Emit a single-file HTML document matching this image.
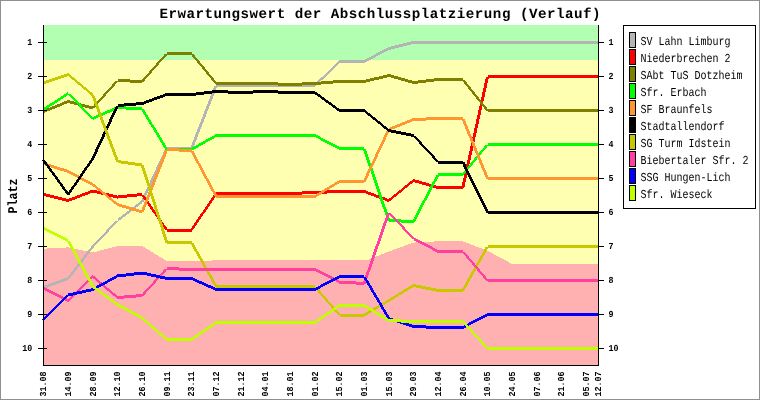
<!DOCTYPE html>
<html lang="de"><head><meta charset="utf-8"><title>Erwartungswert der Abschlussplatzierung (Verlauf)</title>
<style>html,body{margin:0;padding:0;background:#fff}body{width:760px;height:400px;overflow:hidden}svg{display:block}text{font-family:"Liberation Mono",monospace;fill:#000;text-rendering:geometricPrecision}.t{font-weight:bold;font-size:14.2px}.l{font-size:12.2px}.y{font-weight:bold;font-size:13.4px}.k{font-size:9.2px;font-weight:bold}</style></head><body>
<svg width="760" height="400" viewBox="0 0 760 400">
<rect x="0" y="0" width="760" height="400" fill="#fff"/>
<rect x="0.5" y="0.5" width="759" height="399" fill="none" stroke="#909090" stroke-width="1"/>
<g shape-rendering="crispEdges">
<rect x="44" y="25" width="555" height="340" fill="#ffffb2"/>
<rect x="44" y="25" width="555" height="35" fill="#b2ffb2"/>
<path d="M44,365 L43.5,248.7 L68.2,247.4 L92.8,252.5 L117.5,246.0 L142.2,246.0 L166.8,261.0 L191.5,261.0 L216.2,260.4 L240.8,260.0 L265.5,260.0 L290.2,260.0 L314.8,260.0 L339.5,260.0 L364.2,260.0 L367.5,260.0 L388.8,251.5 L413.5,242.6 L438.2,241.3 L462.8,241.3 L487.5,250.8 L512.2,264.0 L536.8,264.0 L561.5,264.0 L586.2,264.0 L598.5,264.0 L599,264.0 L599,365 Z" fill="#ffb0b0"/>
</g>
<g shape-rendering="crispEdges" stroke="none">
<path fill="#b4b4b4" d="M43.5,286.0 L68.2,277.0 L68.2,280.0 L43.5,289.0 Z M66.7,278.5 L91.3,246.5 L94.3,246.5 L69.7,278.5 Z M91.3,246.5 L116.0,220.5 L119.0,220.5 L94.3,246.5 Z M117.5,219.0 L142.2,200.0 L142.2,203.0 L117.5,222.0 Z M140.7,201.5 L165.3,148.5 L168.3,148.5 L143.7,201.5 Z M166.8,147.0 L191.5,147.0 L191.5,150.0 L166.8,150.0 Z M190.0,148.5 L214.7,85.5 L217.7,85.5 L193.0,148.5 Z M216.2,84.0 L240.8,84.0 L240.8,87.0 L216.2,87.0 Z M240.8,84.0 L265.5,84.0 L265.5,87.0 L240.8,87.0 Z M265.5,84.0 L290.2,84.0 L290.2,87.0 L265.5,87.0 Z M290.2,84.0 L314.8,84.0 L314.8,87.0 L290.2,87.0 Z M314.8,84.0 L339.5,60.0 L339.5,63.0 L314.8,87.0 Z M339.5,60.0 L364.2,60.0 L364.2,63.0 L339.5,63.0 Z M364.2,60.0 L388.8,47.0 L388.8,50.0 L364.2,63.0 Z M388.8,47.0 L413.5,41.0 L413.5,44.0 L388.8,50.0 Z M413.5,41.0 L438.2,41.0 L438.2,44.0 L413.5,44.0 Z M438.2,41.0 L462.8,41.0 L462.8,44.0 L438.2,44.0 Z M462.8,41.0 L487.5,41.0 L487.5,44.0 L462.8,44.0 Z M487.5,41.0 L512.2,41.0 L512.2,44.0 L487.5,44.0 Z M512.2,41.0 L536.8,41.0 L536.8,44.0 L512.2,44.0 Z M536.8,41.0 L561.5,41.0 L561.5,44.0 L536.8,44.0 Z M561.5,41.0 L586.2,41.0 L586.2,44.0 L561.5,44.0 Z M586.2,41.0 L598.5,41.0 L598.5,44.0 L586.2,44.0 Z"/>
<path fill="#ff0000" d="M43.5,193.0 L68.2,199.0 L68.2,202.0 L43.5,196.0 Z M68.2,199.0 L92.8,189.5 L92.8,192.5 L68.2,202.0 Z M92.8,189.5 L117.5,195.5 L117.5,198.5 L92.8,192.5 Z M117.5,195.5 L142.2,193.0 L142.2,196.0 L117.5,198.5 Z M143.7,194.5 L168.3,230.0 L165.3,230.0 L140.7,194.5 Z M166.8,228.5 L191.5,228.5 L191.5,231.5 L166.8,231.5 Z M190.0,230.0 L214.7,193.5 L217.7,193.5 L193.0,230.0 Z M216.2,192.0 L240.8,192.0 L240.8,195.0 L216.2,195.0 Z M240.8,192.0 L265.5,192.0 L265.5,195.0 L240.8,195.0 Z M265.5,192.0 L290.2,192.0 L290.2,195.0 L265.5,195.0 Z M290.2,192.0 L314.8,191.0 L314.8,194.0 L290.2,195.0 Z M314.8,191.0 L339.5,190.0 L339.5,193.0 L314.8,194.0 Z M339.5,190.0 L364.2,190.0 L364.2,193.0 L339.5,193.0 Z M364.2,190.0 L388.8,199.0 L388.8,202.0 L364.2,193.0 Z M388.8,199.0 L413.5,179.0 L413.5,182.0 L388.8,202.0 Z M413.5,179.0 L438.2,186.0 L438.2,189.0 L413.5,182.0 Z M438.2,186.0 L462.8,186.0 L462.8,189.0 L438.2,189.0 Z M461.3,187.5 L486.0,76.5 L489.0,76.5 L464.3,187.5 Z M487.5,75.0 L512.2,75.0 L512.2,78.0 L487.5,78.0 Z M512.2,75.0 L536.8,75.0 L536.8,78.0 L512.2,78.0 Z M536.8,75.0 L561.5,75.0 L561.5,78.0 L536.8,78.0 Z M561.5,75.0 L586.2,75.0 L586.2,78.0 L561.5,78.0 Z M586.2,75.0 L598.5,75.0 L598.5,78.0 L586.2,78.0 Z"/>
<path fill="#808000" d="M43.5,110.0 L68.2,100.0 L68.2,103.0 L43.5,113.0 Z M68.2,100.0 L92.8,106.5 L92.8,109.5 L68.2,103.0 Z M91.3,108.0 L116.0,80.5 L119.0,80.5 L94.3,108.0 Z M117.5,79.0 L142.2,80.0 L142.2,83.0 L117.5,82.0 Z M140.7,81.5 L165.3,53.5 L168.3,53.5 L143.7,81.5 Z M166.8,52.0 L191.5,52.0 L191.5,55.0 L166.8,55.0 Z M193.0,53.5 L217.7,83.5 L214.7,83.5 L190.0,53.5 Z M216.2,82.0 L240.8,82.0 L240.8,85.0 L216.2,85.0 Z M240.8,82.0 L265.5,82.0 L265.5,85.0 L240.8,85.0 Z M265.5,82.0 L290.2,83.0 L290.2,86.0 L265.5,85.0 Z M290.2,83.0 L314.8,82.0 L314.8,85.0 L290.2,86.0 Z M314.8,82.0 L339.5,80.0 L339.5,83.0 L314.8,85.0 Z M339.5,80.0 L364.2,80.0 L364.2,83.0 L339.5,83.0 Z M364.2,80.0 L388.8,74.0 L388.8,77.0 L364.2,83.0 Z M388.8,74.0 L413.5,81.0 L413.5,84.0 L388.8,77.0 Z M413.5,81.0 L438.2,78.0 L438.2,81.0 L413.5,84.0 Z M438.2,78.0 L462.8,78.0 L462.8,81.0 L438.2,81.0 Z M464.3,79.5 L489.0,110.5 L486.0,110.5 L461.3,79.5 Z M487.5,109.0 L512.2,109.0 L512.2,112.0 L487.5,112.0 Z M512.2,109.0 L536.8,109.0 L536.8,112.0 L512.2,112.0 Z M536.8,109.0 L561.5,109.0 L561.5,112.0 L536.8,112.0 Z M561.5,109.0 L586.2,109.0 L586.2,112.0 L561.5,112.0 Z M586.2,109.0 L598.5,109.0 L598.5,112.0 L586.2,112.0 Z"/>
<path fill="#00ff00" d="M43.5,108.0 L68.2,92.0 L68.2,95.0 L43.5,111.0 Z M69.7,93.5 L94.3,118.5 L91.3,118.5 L66.7,93.5 Z M92.8,117.0 L117.5,106.0 L117.5,109.0 L92.8,120.0 Z M117.5,106.0 L142.2,107.5 L142.2,110.5 L117.5,109.0 Z M143.7,109.0 L168.3,149.5 L165.3,149.5 L140.7,109.0 Z M166.8,148.0 L191.5,148.0 L191.5,151.0 L166.8,151.0 Z M191.5,148.0 L216.2,134.0 L216.2,137.0 L191.5,151.0 Z M216.2,134.0 L240.8,134.0 L240.8,137.0 L216.2,137.0 Z M240.8,134.0 L265.5,134.0 L265.5,137.0 L240.8,137.0 Z M265.5,134.0 L290.2,134.0 L290.2,137.0 L265.5,137.0 Z M290.2,134.0 L314.8,134.0 L314.8,137.0 L290.2,137.0 Z M314.8,134.0 L339.5,147.0 L339.5,150.0 L314.8,137.0 Z M339.5,147.0 L364.2,147.0 L364.2,150.0 L339.5,150.0 Z M365.7,148.5 L390.3,220.5 L387.3,220.5 L362.7,148.5 Z M388.8,219.0 L413.5,220.0 L413.5,223.0 L388.8,222.0 Z M412.0,221.5 L436.7,174.5 L439.7,174.5 L415.0,221.5 Z M438.2,173.0 L462.8,173.0 L462.8,176.0 L438.2,176.0 Z M461.3,174.5 L486.0,144.5 L489.0,144.5 L464.3,174.5 Z M487.5,143.0 L512.2,143.0 L512.2,146.0 L487.5,146.0 Z M512.2,143.0 L536.8,143.0 L536.8,146.0 L512.2,146.0 Z M536.8,143.0 L561.5,143.0 L561.5,146.0 L536.8,146.0 Z M561.5,143.0 L586.2,143.0 L586.2,146.0 L561.5,146.0 Z M586.2,143.0 L598.5,143.0 L598.5,146.0 L586.2,146.0 Z"/>
<path fill="#ff9632" d="M43.5,162.0 L68.2,170.0 L68.2,173.0 L43.5,165.0 Z M68.2,170.0 L92.8,183.0 L92.8,186.0 L68.2,173.0 Z M92.8,183.0 L117.5,203.0 L117.5,206.0 L92.8,186.0 Z M117.5,203.0 L142.2,210.5 L142.2,213.5 L117.5,206.0 Z M140.7,212.0 L165.3,149.5 L168.3,149.5 L143.7,212.0 Z M166.8,148.0 L191.5,149.0 L191.5,152.0 L166.8,151.0 Z M193.0,150.5 L217.7,196.5 L214.7,196.5 L190.0,150.5 Z M216.2,195.0 L240.8,195.0 L240.8,198.0 L216.2,198.0 Z M240.8,195.0 L265.5,195.0 L265.5,198.0 L240.8,198.0 Z M265.5,195.0 L290.2,195.0 L290.2,198.0 L265.5,198.0 Z M290.2,195.0 L314.8,195.0 L314.8,198.0 L290.2,198.0 Z M314.8,195.0 L339.5,180.0 L339.5,183.0 L314.8,198.0 Z M339.5,180.0 L364.2,180.0 L364.2,183.0 L339.5,183.0 Z M362.7,181.5 L387.3,129.5 L390.3,129.5 L365.7,181.5 Z M388.8,128.0 L413.5,118.0 L413.5,121.0 L388.8,131.0 Z M413.5,118.0 L438.2,117.0 L438.2,120.0 L413.5,121.0 Z M438.2,117.0 L462.8,117.0 L462.8,120.0 L438.2,120.0 Z M464.3,118.5 L489.0,178.5 L486.0,178.5 L461.3,118.5 Z M487.5,177.0 L512.2,177.0 L512.2,180.0 L487.5,180.0 Z M512.2,177.0 L536.8,177.0 L536.8,180.0 L512.2,180.0 Z M536.8,177.0 L561.5,177.0 L561.5,180.0 L536.8,180.0 Z M561.5,177.0 L586.2,177.0 L586.2,180.0 L561.5,180.0 Z M586.2,177.0 L598.5,177.0 L598.5,180.0 L586.2,180.0 Z"/>
<path fill="#000000" d="M45.0,160.0 L69.7,194.5 L66.7,194.5 L42.0,160.0 Z M66.7,194.5 L91.3,158.5 L94.3,158.5 L69.7,194.5 Z M91.3,158.5 L116.0,105.5 L119.0,105.5 L94.3,158.5 Z M117.5,104.0 L142.2,102.0 L142.2,105.0 L117.5,107.0 Z M142.2,102.0 L166.8,93.0 L166.8,96.0 L142.2,105.0 Z M166.8,93.0 L191.5,93.0 L191.5,96.0 L166.8,96.0 Z M191.5,93.0 L216.2,90.0 L216.2,93.0 L191.5,96.0 Z M216.2,90.0 L240.8,91.0 L240.8,94.0 L216.2,93.0 Z M240.8,91.0 L265.5,90.0 L265.5,93.0 L240.8,94.0 Z M265.5,90.0 L290.2,91.0 L290.2,94.0 L265.5,93.0 Z M290.2,91.0 L314.8,91.0 L314.8,94.0 L290.2,94.0 Z M314.8,91.0 L339.5,109.0 L339.5,112.0 L314.8,94.0 Z M339.5,109.0 L364.2,109.0 L364.2,112.0 L339.5,112.0 Z M364.2,109.0 L388.8,129.0 L388.8,132.0 L364.2,112.0 Z M388.8,129.0 L413.5,134.0 L413.5,137.0 L388.8,132.0 Z M415.0,135.5 L439.7,162.0 L436.7,162.0 L412.0,135.5 Z M438.2,160.5 L462.8,160.5 L462.8,163.5 L438.2,163.5 Z M464.3,162.0 L489.0,212.5 L486.0,212.5 L461.3,162.0 Z M487.5,211.0 L512.2,211.0 L512.2,214.0 L487.5,214.0 Z M512.2,211.0 L536.8,211.0 L536.8,214.0 L512.2,214.0 Z M536.8,211.0 L561.5,211.0 L561.5,214.0 L536.8,214.0 Z M561.5,211.0 L586.2,211.0 L586.2,214.0 L561.5,214.0 Z M586.2,211.0 L598.5,211.0 L598.5,214.0 L586.2,214.0 Z"/>
<path fill="#c8c800" d="M43.5,81.5 L68.2,73.0 L68.2,76.0 L43.5,84.5 Z M68.2,73.0 L92.8,93.5 L92.8,96.5 L68.2,76.0 Z M94.3,95.0 L119.0,161.5 L116.0,161.5 L91.3,95.0 Z M117.5,160.0 L142.2,163.5 L142.2,166.5 L117.5,163.0 Z M143.7,165.0 L168.3,242.5 L165.3,242.5 L140.7,165.0 Z M166.8,241.0 L191.5,241.0 L191.5,244.0 L166.8,244.0 Z M193.0,242.5 L217.7,286.5 L214.7,286.5 L190.0,242.5 Z M216.2,285.0 L240.8,285.0 L240.8,288.0 L216.2,288.0 Z M240.8,285.0 L265.5,285.0 L265.5,288.0 L240.8,288.0 Z M265.5,285.0 L290.2,285.0 L290.2,288.0 L265.5,288.0 Z M290.2,285.0 L314.8,285.0 L314.8,288.0 L290.2,288.0 Z M316.3,286.5 L341.0,315.0 L338.0,315.0 L313.3,286.5 Z M339.5,313.5 L364.2,313.5 L364.2,316.5 L339.5,316.5 Z M364.2,313.5 L388.8,299.0 L388.8,302.0 L364.2,316.5 Z M388.8,299.0 L413.5,284.0 L413.5,287.0 L388.8,302.0 Z M413.5,284.0 L438.2,289.0 L438.2,292.0 L413.5,287.0 Z M438.2,289.0 L462.8,289.0 L462.8,292.0 L438.2,292.0 Z M461.3,290.5 L486.0,246.5 L489.0,246.5 L464.3,290.5 Z M487.5,245.0 L512.2,245.0 L512.2,248.0 L487.5,248.0 Z M512.2,245.0 L536.8,245.0 L536.8,248.0 L512.2,248.0 Z M536.8,245.0 L561.5,245.0 L561.5,248.0 L536.8,248.0 Z M561.5,245.0 L586.2,245.0 L586.2,248.0 L561.5,248.0 Z M586.2,245.0 L598.5,245.0 L598.5,248.0 L586.2,248.0 Z"/>
<path fill="#ff40a0" d="M43.5,287.0 L68.2,299.0 L68.2,302.0 L43.5,290.0 Z M68.2,299.0 L92.8,275.0 L92.8,278.0 L68.2,302.0 Z M92.8,275.0 L117.5,296.0 L117.5,299.0 L92.8,278.0 Z M117.5,296.0 L142.2,294.0 L142.2,297.0 L117.5,299.0 Z M140.7,295.5 L165.3,268.5 L168.3,268.5 L143.7,295.5 Z M166.8,267.0 L191.5,268.0 L191.5,271.0 L166.8,270.0 Z M191.5,268.0 L216.2,268.0 L216.2,271.0 L191.5,271.0 Z M216.2,268.0 L240.8,268.0 L240.8,271.0 L216.2,271.0 Z M240.8,268.0 L265.5,268.0 L265.5,271.0 L240.8,271.0 Z M265.5,268.0 L290.2,268.0 L290.2,271.0 L265.5,271.0 Z M290.2,268.0 L314.8,268.0 L314.8,271.0 L290.2,271.0 Z M314.8,268.0 L339.5,280.5 L339.5,283.5 L314.8,271.0 Z M339.5,280.5 L364.2,282.0 L364.2,285.0 L339.5,283.5 Z M362.7,283.5 L387.3,212.5 L390.3,212.5 L365.7,283.5 Z M390.3,212.5 L415.0,238.5 L412.0,238.5 L387.3,212.5 Z M413.5,237.0 L438.2,250.0 L438.2,253.0 L413.5,240.0 Z M438.2,250.0 L462.8,250.0 L462.8,253.0 L438.2,253.0 Z M464.3,251.5 L489.0,280.5 L486.0,280.5 L461.3,251.5 Z M487.5,279.0 L512.2,279.0 L512.2,282.0 L487.5,282.0 Z M512.2,279.0 L536.8,279.0 L536.8,282.0 L512.2,282.0 Z M536.8,279.0 L561.5,279.0 L561.5,282.0 L536.8,282.0 Z M561.5,279.0 L586.2,279.0 L586.2,282.0 L561.5,282.0 Z M586.2,279.0 L598.5,279.0 L598.5,282.0 L586.2,282.0 Z"/>
<path fill="#0000ff" d="M42.0,320.0 L66.7,295.0 L69.7,295.0 L45.0,320.0 Z M68.2,293.5 L92.8,288.0 L92.8,291.0 L68.2,296.5 Z M92.8,288.0 L117.5,274.5 L117.5,277.5 L92.8,291.0 Z M117.5,274.5 L142.2,271.5 L142.2,274.5 L117.5,277.5 Z M142.2,271.5 L166.8,277.0 L166.8,280.0 L142.2,274.5 Z M166.8,277.0 L191.5,277.0 L191.5,280.0 L166.8,280.0 Z M191.5,277.0 L216.2,288.0 L216.2,291.0 L191.5,280.0 Z M216.2,288.0 L240.8,288.0 L240.8,291.0 L216.2,291.0 Z M240.8,288.0 L265.5,288.0 L265.5,291.0 L240.8,291.0 Z M265.5,288.0 L290.2,288.0 L290.2,291.0 L265.5,291.0 Z M290.2,288.0 L314.8,288.0 L314.8,291.0 L290.2,291.0 Z M314.8,288.0 L339.5,275.0 L339.5,278.0 L314.8,291.0 Z M339.5,275.0 L364.2,275.0 L364.2,278.0 L339.5,278.0 Z M365.7,276.5 L390.3,318.5 L387.3,318.5 L362.7,276.5 Z M388.8,317.0 L413.5,325.0 L413.5,328.0 L388.8,320.0 Z M413.5,325.0 L438.2,326.0 L438.2,329.0 L413.5,328.0 Z M438.2,326.0 L462.8,326.0 L462.8,329.0 L438.2,329.0 Z M462.8,326.0 L487.5,313.0 L487.5,316.0 L462.8,329.0 Z M487.5,313.0 L512.2,313.0 L512.2,316.0 L487.5,316.0 Z M512.2,313.0 L536.8,313.0 L536.8,316.0 L512.2,316.0 Z M536.8,313.0 L561.5,313.0 L561.5,316.0 L536.8,316.0 Z M561.5,313.0 L586.2,313.0 L586.2,316.0 L561.5,316.0 Z M586.2,313.0 L598.5,313.0 L598.5,316.0 L586.2,316.0 Z"/>
<path fill="#c0ff00" d="M43.5,227.0 L68.2,239.0 L68.2,242.0 L43.5,230.0 Z M69.7,240.5 L94.3,286.5 L91.3,286.5 L66.7,240.5 Z M92.8,285.0 L117.5,303.0 L117.5,306.0 L92.8,288.0 Z M117.5,303.0 L142.2,316.5 L142.2,319.5 L117.5,306.0 Z M142.2,316.5 L166.8,338.0 L166.8,341.0 L142.2,319.5 Z M166.8,338.0 L191.5,338.0 L191.5,341.0 L166.8,341.0 Z M191.5,338.0 L216.2,321.0 L216.2,324.0 L191.5,341.0 Z M216.2,321.0 L240.8,321.0 L240.8,324.0 L216.2,324.0 Z M240.8,321.0 L265.5,321.0 L265.5,324.0 L240.8,324.0 Z M265.5,321.0 L290.2,321.0 L290.2,324.0 L265.5,324.0 Z M290.2,321.0 L314.8,321.0 L314.8,324.0 L290.2,324.0 Z M314.8,321.0 L339.5,304.0 L339.5,307.0 L314.8,324.0 Z M339.5,304.0 L364.2,304.0 L364.2,307.0 L339.5,307.0 Z M364.2,304.0 L388.8,319.0 L388.8,322.0 L364.2,307.0 Z M388.8,319.0 L413.5,320.0 L413.5,323.0 L388.8,322.0 Z M413.5,320.0 L438.2,320.0 L438.2,323.0 L413.5,323.0 Z M438.2,320.0 L462.8,320.0 L462.8,323.0 L438.2,323.0 Z M464.3,321.5 L489.0,348.5 L486.0,348.5 L461.3,321.5 Z M487.5,347.0 L512.2,347.0 L512.2,350.0 L487.5,350.0 Z M512.2,347.0 L536.8,347.0 L536.8,350.0 L512.2,350.0 Z M536.8,347.0 L561.5,347.0 L561.5,350.0 L536.8,350.0 Z M561.5,347.0 L586.2,347.0 L586.2,350.0 L561.5,350.0 Z M586.2,347.0 L598.5,347.0 L598.5,350.0 L586.2,350.0 Z"/>
</g>
<g stroke="#000" stroke-width="1" shape-rendering="crispEdges">
<line x1="43.5" y1="25" x2="43.5" y2="366"/>
<line x1="598.5" y1="25" x2="598.5" y2="366"/>
<line x1="43" y1="365.5" x2="599" y2="365.5"/>
<line x1="38" y1="42.5" x2="47" y2="42.5"/>
<line x1="599" y1="42.5" x2="604" y2="42.5"/>
<line x1="38" y1="76.5" x2="47" y2="76.5"/>
<line x1="599" y1="76.5" x2="604" y2="76.5"/>
<line x1="38" y1="110.5" x2="47" y2="110.5"/>
<line x1="599" y1="110.5" x2="604" y2="110.5"/>
<line x1="38" y1="144.5" x2="47" y2="144.5"/>
<line x1="599" y1="144.5" x2="604" y2="144.5"/>
<line x1="38" y1="178.5" x2="47" y2="178.5"/>
<line x1="599" y1="178.5" x2="604" y2="178.5"/>
<line x1="38" y1="212.5" x2="47" y2="212.5"/>
<line x1="599" y1="212.5" x2="604" y2="212.5"/>
<line x1="38" y1="246.5" x2="47" y2="246.5"/>
<line x1="599" y1="246.5" x2="604" y2="246.5"/>
<line x1="38" y1="280.5" x2="47" y2="280.5"/>
<line x1="599" y1="280.5" x2="604" y2="280.5"/>
<line x1="38" y1="314.5" x2="47" y2="314.5"/>
<line x1="599" y1="314.5" x2="604" y2="314.5"/>
<line x1="38" y1="348.5" x2="47" y2="348.5"/>
<line x1="599" y1="348.5" x2="604" y2="348.5"/>
</g>
<text class="k" transform="translate(32.3,45.2) scale(0.906,1)" text-anchor="end">1</text>
<text class="k" transform="translate(608.4,45.2) scale(0.906,1)">1</text>
<text class="k" transform="translate(32.3,79.2) scale(0.906,1)" text-anchor="end">2</text>
<text class="k" transform="translate(608.4,79.2) scale(0.906,1)">2</text>
<text class="k" transform="translate(32.3,113.2) scale(0.906,1)" text-anchor="end">3</text>
<text class="k" transform="translate(608.4,113.2) scale(0.906,1)">3</text>
<text class="k" transform="translate(32.3,147.2) scale(0.906,1)" text-anchor="end">4</text>
<text class="k" transform="translate(608.4,147.2) scale(0.906,1)">4</text>
<text class="k" transform="translate(32.3,181.2) scale(0.906,1)" text-anchor="end">5</text>
<text class="k" transform="translate(608.4,181.2) scale(0.906,1)">5</text>
<text class="k" transform="translate(32.3,215.2) scale(0.906,1)" text-anchor="end">6</text>
<text class="k" transform="translate(608.4,215.2) scale(0.906,1)">6</text>
<text class="k" transform="translate(32.3,249.2) scale(0.906,1)" text-anchor="end">7</text>
<text class="k" transform="translate(608.4,249.2) scale(0.906,1)">7</text>
<text class="k" transform="translate(32.3,283.2) scale(0.906,1)" text-anchor="end">8</text>
<text class="k" transform="translate(608.4,283.2) scale(0.906,1)">8</text>
<text class="k" transform="translate(32.3,317.2) scale(0.906,1)" text-anchor="end">9</text>
<text class="k" transform="translate(608.4,317.2) scale(0.906,1)">9</text>
<text class="k" transform="translate(32.3,351.2) scale(0.906,1)" text-anchor="end">10</text>
<text class="k" transform="translate(608.4,351.2) scale(0.906,1)">10</text>
<text class="k" transform="translate(46.4,396.5) rotate(-90) scale(0.906,1)">31.08</text>
<text class="k" transform="translate(71.1,396.5) rotate(-90) scale(0.906,1)">14.09</text>
<text class="k" transform="translate(95.7,396.5) rotate(-90) scale(0.906,1)">28.09</text>
<text class="k" transform="translate(120.4,396.5) rotate(-90) scale(0.906,1)">12.10</text>
<text class="k" transform="translate(145.1,396.5) rotate(-90) scale(0.906,1)">26.10</text>
<text class="k" transform="translate(169.7,396.5) rotate(-90) scale(0.906,1)">09.11</text>
<text class="k" transform="translate(194.4,396.5) rotate(-90) scale(0.906,1)">23.11</text>
<text class="k" transform="translate(219.1,396.5) rotate(-90) scale(0.906,1)">07.12</text>
<text class="k" transform="translate(243.7,396.5) rotate(-90) scale(0.906,1)">21.12</text>
<text class="k" transform="translate(268.4,396.5) rotate(-90) scale(0.906,1)">04.01</text>
<text class="k" transform="translate(293.1,396.5) rotate(-90) scale(0.906,1)">18.01</text>
<text class="k" transform="translate(317.7,396.5) rotate(-90) scale(0.906,1)">01.02</text>
<text class="k" transform="translate(342.4,396.5) rotate(-90) scale(0.906,1)">15.02</text>
<text class="k" transform="translate(367.1,396.5) rotate(-90) scale(0.906,1)">01.03</text>
<text class="k" transform="translate(391.7,396.5) rotate(-90) scale(0.906,1)">15.03</text>
<text class="k" transform="translate(416.4,396.5) rotate(-90) scale(0.906,1)">29.03</text>
<text class="k" transform="translate(441.1,396.5) rotate(-90) scale(0.906,1)">12.04</text>
<text class="k" transform="translate(465.7,396.5) rotate(-90) scale(0.906,1)">26.04</text>
<text class="k" transform="translate(490.4,396.5) rotate(-90) scale(0.906,1)">10.05</text>
<text class="k" transform="translate(515.1,396.5) rotate(-90) scale(0.906,1)">24.05</text>
<text class="k" transform="translate(539.7,396.5) rotate(-90) scale(0.906,1)">07.06</text>
<text class="k" transform="translate(564.4,396.5) rotate(-90) scale(0.906,1)">21.06</text>
<text class="k" transform="translate(589.1,396.5) rotate(-90) scale(0.906,1)">05.07</text>
<text class="k" transform="translate(601.4,396.5) rotate(-90) scale(0.906,1)">12.07</text>
<text class="t" x="159.5" y="17.6" textLength="441" lengthAdjust="spacing">Erwartungswert der Abschlussplatzierung (Verlauf)</text>
<text class="y" transform="translate(17,196) rotate(-90) scale(0.87,1)" text-anchor="middle">Platz</text>
<g shape-rendering="crispEdges"><rect x="623.5" y="25.5" width="132" height="183" fill="#fff" stroke="#000" stroke-width="1"/>
<rect x="629.5" y="32.5" width="6" height="15" fill="#b4b4b4" stroke="#000" stroke-width="1"/>
<rect x="629.5" y="49.5" width="6" height="15" fill="#ff0000" stroke="#000" stroke-width="1"/>
<rect x="629.5" y="66.5" width="6" height="15" fill="#808000" stroke="#000" stroke-width="1"/>
<rect x="629.5" y="83.5" width="6" height="15" fill="#00ff00" stroke="#000" stroke-width="1"/>
<rect x="629.5" y="100.5" width="6" height="15" fill="#ff9632" stroke="#000" stroke-width="1"/>
<rect x="629.5" y="117.5" width="6" height="15" fill="#000000" stroke="#000" stroke-width="1"/>
<rect x="629.5" y="134.5" width="6" height="15" fill="#c8c800" stroke="#000" stroke-width="1"/>
<rect x="629.5" y="151.5" width="6" height="15" fill="#ff40a0" stroke="#000" stroke-width="1"/>
<rect x="629.5" y="168.5" width="6" height="15" fill="#0000ff" stroke="#000" stroke-width="1"/>
<rect x="629.5" y="185.5" width="6" height="15" fill="#c0ff00" stroke="#000" stroke-width="1"/>
</g>
<text class="l" transform="translate(640.5,45.0) scale(0.820,1.000)">SV Lahn Limburg</text>
<text class="l" transform="translate(640.5,62.0) scale(0.820,1.000)">Niederbrechen 2</text>
<text class="l" transform="translate(640.5,79.0) scale(0.820,1.000)">SAbt TuS Dotzheim</text>
<text class="l" transform="translate(640.5,96.0) scale(0.820,1.000)">Sfr. Erbach</text>
<text class="l" transform="translate(640.5,113.0) scale(0.820,1.000)">SF Braunfels</text>
<text class="l" transform="translate(640.5,130.0) scale(0.820,1.000)">Stadtallendorf</text>
<text class="l" transform="translate(640.5,147.0) scale(0.820,1.000)">SG Turm Idstein</text>
<text class="l" transform="translate(640.5,164.0) scale(0.820,1.000)">Biebertaler Sfr. 2</text>
<text class="l" transform="translate(640.5,181.0) scale(0.820,1.000)">SSG Hungen-Lich</text>
<text class="l" transform="translate(640.5,198.0) scale(0.820,1.000)">Sfr. Wieseck</text>
</svg></body></html>
